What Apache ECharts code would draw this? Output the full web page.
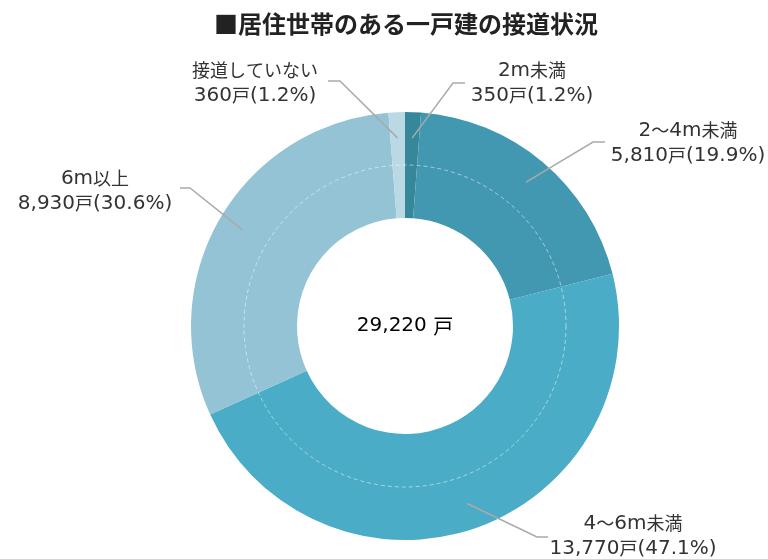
<!DOCTYPE html>
<html>
<head>
<meta charset="utf-8">
<script src="https://cdn.jsdelivr.net/npm/echarts@6/dist/echarts.min.js"></script>
<style>
  html, body { margin: 0; padding: 0; background: #fff; }
  #chart { width: 768px; height: 559px; }
</style>
</head>
<body>
<div id="chart"></div>
<script>
// データ
var categories = ["2m未満", "2～4m未満", "4～6m未満", "6m以上", "接道していない"];
var households = [350, 5810, 13770, 8930, 360];
var colors = ["#37879b", "#4398b1", "#4aacc6", "#93c3d5", "#bbd9e5"];

var cx = 405, cy = 326;
var total = households.reduce(function (a, b) { return a + b; }, 0);

// ラベル位置 [テキスト中心, 折れ点, 線の終点]
var labelPos = [
  { text: [532, 83], bend: [453, 83], end: [465, 83] },
  { text: [688, 143], bend: [593, 142], end: [605, 142] },
  { text: [633, 536], bend: [537, 537], end: [548, 537] },
  { text: [95, 191], bend: [190, 188], end: [180, 188] },
  { text: [255, 83], bend: [340, 81], end: [328, 81] }
];

// スライス中央角から線の始点を求める
function startPoint(idx) {
  var before = 0;
  for (var i = 0; i < idx; i++) before += households[i];
  var mid = (before + households[idx] / 2) / total * Math.PI * 2;
  var r = 188;
  return [cx + r * Math.sin(mid), cy - r * Math.cos(mid)];
}

// 英数字と全角文字でフォントを分ける
function richText(str) {
  var out = "", cur = null, buf = "";
  for (var i = 0; i < str.length; i++) {
    var ch = str[i];
    if (ch === "\n") {
      if (buf) out += "{" + cur + "|" + buf + "}";
      out += "\n"; buf = ""; cur = null;
      continue;
    }
    var t = ch.charCodeAt(0) > 0x2000 ? "j" : "n";
    if (t !== cur && buf) { out += "{" + cur + "|" + buf + "}"; buf = ""; }
    cur = t;
    buf += ch;
  }
  if (buf) out += "{" + cur + "|" + buf + "}";
  return out;
}

var richStyle = {
  n: { fontFamily: "DejaVu Sans", fontSize: 20, lineHeight: 25, color: "#333" },
  j: { fontFamily: "Noto Sans CJK JP", fontSize: 18, lineHeight: 25, color: "#333" }
};

var myChart = echarts.init(document.getElementById("chart"));

var pieData = categories.map(function (name, i) {
  return { name: name, value: households[i], itemStyle: { color: colors[i] } };
});

var option = {
  animation: false,
  title: {
    text: "■居住世帯のある一戸建の接道状況",
    left: 401,
    textAlign: "center",
    top: 7,
    textStyle: {
      fontFamily: "Noto Sans CJK JP",
      fontSize: 24,
      fontWeight: "bold",
      color: "#222"
    }
  },
  graphic: [
    {
      type: "circle",
      shape: { cx: cx, cy: cy, r: 161 },
      style: { fill: "none", stroke: "rgba(255,255,255,0.5)", lineWidth: 1, lineDash: [4, 3] },
      z: 10
    },
    {
      type: "text",
      x: cx,
      y: cy,
      style: {
        text: richText(total.toLocaleString("en-US") + " 戸"),
        rich: {
          n: { fontFamily: "DejaVu Sans", fontSize: 20, color: "#222" },
          j: { fontFamily: "Noto Sans CJK JP", fontSize: 20, color: "#222" }
        },
        align: "center",
        verticalAlign: "middle"
      },
      z: 10
    }
  ],
  series: [
    {
      // 扇形
      type: "pie",
      center: [cx, cy],
      radius: [108, 214],
      startAngle: 90,
      silent: true,
      data: pieData,
      label: { show: false },
      labelLine: { show: false }
    },
    {
      // ラベルと引き出し線（扇形の上に描く）
      type: "pie",
      z: 5,
      center: [cx, cy],
      radius: [108, 214],
      startAngle: 90,
      silent: true,
      percentPrecision: 1,
      data: categories.map(function (name, i) {
        return { name: name, value: households[i] };
      }),
      itemStyle: { color: "rgba(0,0,0,0)" },
      label: {
        show: true,
        formatter: function (p) {
          return richText(p.name + "\n" + p.value.toLocaleString("en-US") + "戸(" + p.percent.toFixed(1) + "%)");
        },
        rich: richStyle,
        align: "center"
      },
      labelLine: {
        show: true,
        lineStyle: { color: "#aaa", width: 1.5 }
      },
      labelLayout: function (params) {
        var p = labelPos[params.dataIndex];
        return {
          x: p.text[0],
          y: p.text[1],
          align: "center",
          verticalAlign: "middle",
          labelLinePoints: [startPoint(params.dataIndex), p.bend, p.end]
        };
      }
    }
  ]
};

myChart.setOption(option);
window.addEventListener("resize", function () {
  myChart.resize();
});
</script>
</body>
</html>
